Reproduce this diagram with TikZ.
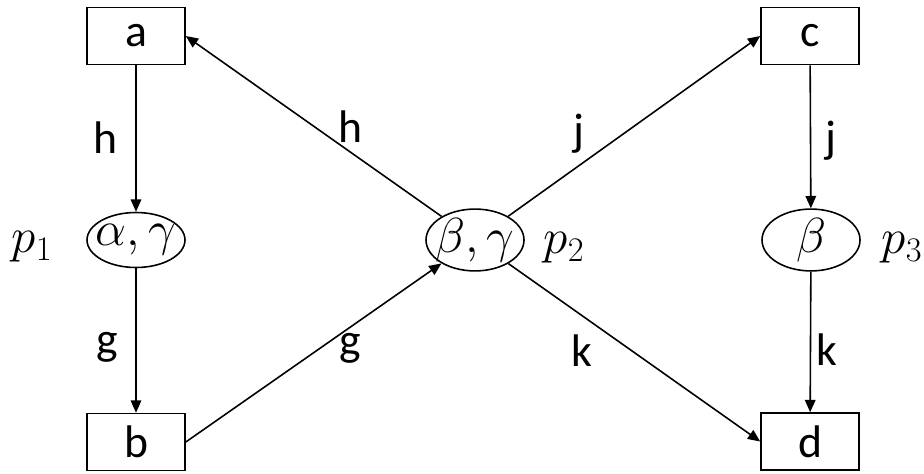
\documentclass[tikz,border=0pt]{standalone}
\usepackage{fix-cm}
\usepackage{fontspec}
\setmainfont{Carlito}
\usepackage{tikz}
\usetikzlibrary{arrows.meta,positioning,shapes}

\newcommand{\inplace}[1]{\makebox[0pt]{$#1$}}

\begin{document}
\begin{tikzpicture}[
  box/.style={draw,rectangle,minimum width=1.96cm,minimum height=1.14cm,inner sep=0pt,font=\fontsize{26}{30}\selectfont},
  place/.style={draw,ellipse,minimum width=1.96cm,minimum height=1.1cm,inner sep=0pt,font=\fontsize{28}{32}\selectfont},
  lbl/.style={inner sep=0pt,font=\fontsize{26}{30}\selectfont},
  plbl/.style={inner sep=0pt,font=\fontsize{28}{32}\selectfont},
  line width=0.9pt,
  >={Triangle[length=7pt,width=6pt]}
]
\useasboundingbox (0,0) rectangle (18.48,9.46);
% Top row: a and c
\node[box] (a) at (2.72,8.74) {a};
\node[box] (c) at (16.2,8.74) {c};
% Middle row: the three places
\node[place] (p1) at (2.72,4.66) {\inplace{\alpha,\gamma}};
\node[place] (p2) at (9.5,4.66) {\inplace{\beta,\gamma}};
\node[place] (p3) at (16.22,4.66) {\inplace{\beta}};
\node[plbl] (p1lbl) at (0.64,4.52) {$p_1$};
\node[plbl] (p2lbl) at (11.28,4.5) {$p_2$};
\node[plbl] (p3lbl) at (18.04,4.5) {$p_3$};
% Bottom row: b and d
\node[box] (b) at (2.72,0.62) {b};
\node[box] (d) at (16.2,0.63) {d};
% Edges
\draw[->] (a) -- (p1); \draw[->] (p1) -- (b);
\draw[->] (b.east) -- (p2);
\draw[->] (p2) -- (a.east);
\draw[->] (p2) -- (c.west);
\draw[->] (p2) -- (d.west);
\draw[->] (c) -- (p3); \draw[->] (p3) -- (d);
% Edge labels
\node[lbl] (h1) at (2.12,6.7) {h};
\node[lbl] (g1) at (2.14,2.52) {g};
\node[lbl] (h2) at (7.0,6.92) {h};
\node[lbl] (g2) at (7.0,2.5) {g};
\node[lbl] (j1) at (11.58,6.78) {j};
\node[lbl] (k1) at (11.64,2.44) {k};
\node[lbl] (j2) at (16.62,6.64) {j};
\node[lbl] (k2) at (16.54,2.46) {k};
\end{tikzpicture}
\end{document}
